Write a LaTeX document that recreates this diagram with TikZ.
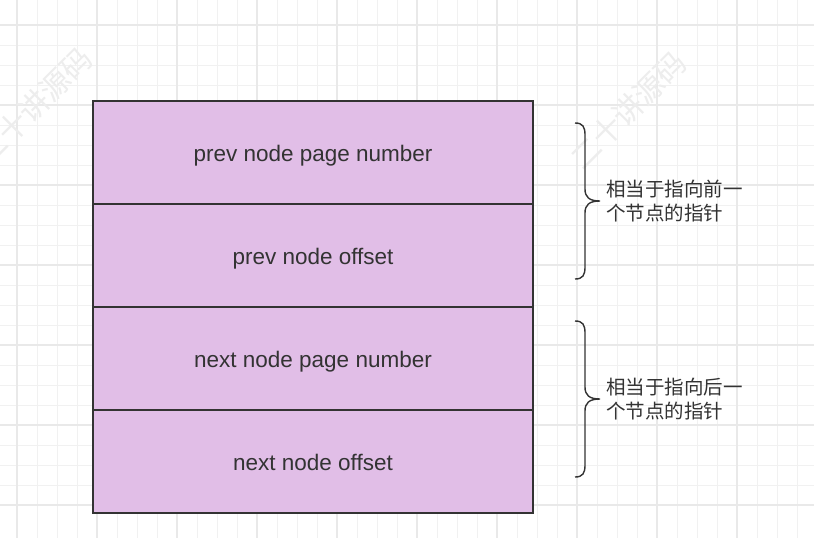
\documentclass[tikz,border=0pt]{standalone}
\usepackage{fontspec}
\setmainfont{Liberation Sans}
\newfontfamily\cjk{Noto Sans CJK SC}
\usetikzlibrary{positioning}
\definecolor{fieldfill}{HTML}{E1BEE7}
\definecolor{ink}{HTML}{333333}
\definecolor{gridminor}{HTML}{F1F1F1}
\definecolor{gridmajor}{HTML}{E9E9E9}
\definecolor{watermark}{HTML}{EDEDED}
\tikzset{
    field/.style={draw=ink, line width=1.3pt, fill=fieldfill, minimum width=440pt,
      minimum height=103pt, inner sep=0pt, outer sep=0pt, text=ink,
      text height=18pt, text depth=1pt, font=\fontsize{22.5}{27}\selectfont},
    note/.style={text=ink, align=left, inner sep=0pt, font=\cjk\fontsize{19.5}{24.5}\selectfont},
    wmark/.style={text=watermark, rotate=45, inner sep=0pt, font=\cjk\fontsize{30}{30}\selectfont},
    curly/.pic={
    \draw[ink, line width=1.4pt] (0,0) .. controls (8,0) and (10,4) .. (10,12)
      -- (10,{#1/2-12}) .. controls (10,{#1/2-4}) and (14,{#1/2}) .. (25,{#1/2})
      .. controls (14,{#1/2}) and (10,{#1/2+4}) .. (10,{#1/2+12})
      -- (10,{#1-12}) .. controls (10,{#1-4}) and (8,#1) .. (0,#1);
    },
}

\begin{document}
\begin{tikzpicture}[x=1pt, y=-1pt]
    \useasboundingbox[fill=white] (0,0) rectangle (814,538);

    % background grid
    \foreach \x in {17,37,...,797}
      \draw[gridminor, line width=1pt] (\x,0) -- (\x,538);
    \foreach \y in {25,45,...,505}
      \draw[gridminor, line width=1pt] (0,\y) -- (814,\y);
    \foreach \x in {17,97,...,737}
      \draw[gridmajor, line width=1.2pt] (\x,0) -- (\x,538);
    \foreach \y in {25,105,...,505}
      \draw[gridmajor, line width=1.2pt] (0,\y) -- (814,\y);

    \node[wmark] (w0) at (34,106) {二十讲源码};
    \node[wmark] (w1) at (628,110) {二十讲源码};

    \node[field] (f0) at (313,152.5) {prev node page number};
    \node[field, below=0pt of f0] (f1) {prev node offset};
    \node[field, below=0pt of f1] (f2) {next node page number};
    \node[field, below=0pt of f2] (f3) {next node offset};

    \pic at (575,123) {curly=156};
    \pic at (575,321) {curly=156};

    \coordinate (t0) at (600,201);
    \coordinate (t1) at (600,399);
    \node[note, anchor=west, right=6pt of t0] (n0) {相当于指向前一\\个节点的指针};
    \node[note, anchor=west, right=6pt of t1] (n1) {相当于指向后一\\个节点的指针};
\end{tikzpicture}
\end{document}
